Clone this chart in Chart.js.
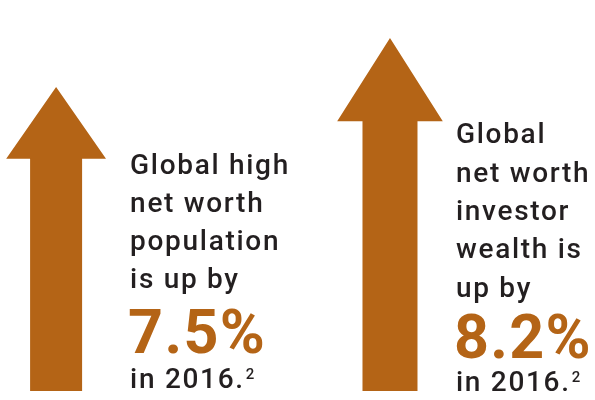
<!DOCTYPE html>
<html>
<head>
<meta charset="utf-8">
<script src="https://cdn.jsdelivr.net/npm/chart.js@4/dist/chart.umd.min.js"></script>
<style>
  html, body { margin: 0; padding: 0; background: #ffffff; }
  canvas { display: block; }
</style>
</head>
<body>
<canvas id="grafico" width="595" height="400"></canvas>
<script>
// datos del grafico
const posiciones = [1, 2];
const valores = [7.5, 8.2];
const etiquetasValor = ['7.5%', '8.2%'];
const textos = [
    ['Global high', 'net worth', 'population', 'is up by'],
    ['Global', 'net worth', 'investor', 'wealth is', 'up by']
];
const pie = 'in 2016.';
const nota = '2';
const yMin = 3.157;
const yMax = 8.743;

const colorFlecha = '#b46416';
const colorTexto = '#231f20';
const fuente = 'Roboto, "DejaVu Sans", sans-serif';

// dibuja cada barra como una flecha (cuerpo + punta)
const pluginFlechas = {
    id: 'flechas',
    afterDatasetsDraw(chart) {
        const ctx = chart.ctx;
        ctx.save();
        ctx.fillStyle = colorFlecha;
        chart.data.datasets.forEach((ds, i) => {
            const el = chart.getDatasetMeta(i).data[0];
            const alto = el.base - el.y;
            const puntaAlto = alto * 0.236;
            const puntaMedio = el.width * 0.96;
            const mitad = el.width / 2;
            const yPunta = el.y + puntaAlto;
            ctx.beginPath();
            ctx.moveTo(el.x - mitad, el.base);
            ctx.lineTo(el.x - mitad, yPunta);
            ctx.lineTo(el.x - puntaMedio, yPunta);
            ctx.lineTo(el.x, el.y);
            ctx.lineTo(el.x + puntaMedio, yPunta);
            ctx.lineTo(el.x + mitad, yPunta);
            ctx.lineTo(el.x + mitad, el.base);
            ctx.closePath();
            ctx.fill();
        });
        ctx.restore();
    }
};

// textos a la derecha de cada flecha
const bloques = [
    { dx: 74, lineas: [174, 212, 250, 288], grande: 353, pie: 388 },
    { dx: 66, lineas: [143, 182, 220, 258, 297], grande: 358, pie: 391 }
];

const pluginTextos = {
    id: 'textos',
    afterDraw(chart) {
        const ctx = chart.ctx;
        ctx.save();
        ctx.textBaseline = 'alphabetic';
        ctx.textAlign = 'left';
        chart.data.datasets.forEach((ds, i) => {
            const el = chart.getDatasetMeta(i).data[0];
            const b = bloques[i];
            const x = el.x + b.dx;
            ctx.fillStyle = colorTexto;
            ctx.font = '500 28px ' + fuente;
            ctx.letterSpacing = '1.7px';
            textos[i].forEach((t, k) => ctx.fillText(t, x, b.lineas[k]));
            ctx.fillStyle = colorFlecha;
            ctx.font = 'bold 61px ' + fuente;
            ctx.letterSpacing = '1.3px';
            ctx.fillText(etiquetasValor[i], x - 2, b.grande);
            ctx.fillStyle = colorTexto;
            ctx.font = '500 28px ' + fuente;
            ctx.letterSpacing = '1.7px';
            ctx.fillText(pie, x, b.pie);
            const w = ctx.measureText(pie).width;
            ctx.font = '500 15px ' + fuente;
            ctx.letterSpacing = '0px';
            ctx.fillText(nota, x + w + 1, b.pie - 9);
        });
        ctx.restore();
    }
};

new Chart(document.getElementById('grafico').getContext('2d'), {
    type: 'bar',
    data: {
        datasets: [
            { data: [{ x: posiciones[0], y: valores[0] }], barThickness: 52, base: yMin, backgroundColor: 'rgba(0,0,0,0)' },
            { data: [{ x: posiciones[1], y: valores[1] }], barThickness: 55, base: yMin, backgroundColor: 'rgba(0,0,0,0)' }
        ]
    },
    options: {
        responsive: false,
        animation: false,
        layout: { padding: { left: 0, right: 0, top: 0, bottom: 9 } },
        plugins: { legend: { display: false }, tooltip: { enabled: false } },
        datasets: { bar: { grouped: false } },
        scales: {
            x: { type: 'linear', offset: false, min: 0.832, max: 2.614, display: false },
            y: { min: yMin, max: yMax, display: false }
        }
    },
    plugins: [pluginFlechas, pluginTextos]
});
</script>
</body>
</html>
